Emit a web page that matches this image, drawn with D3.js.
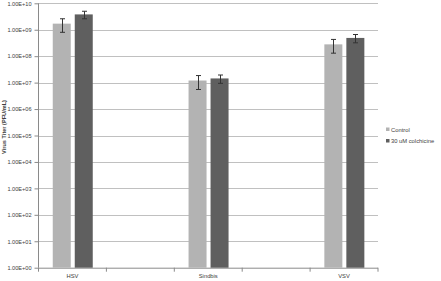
<!DOCTYPE html>
<html><head><meta charset="utf-8">
<script src="https://cdn.jsdelivr.net/npm/d3@7"></script>
<style>body{margin:0;background:#fff}svg{display:block}text{font-family:"Liberation Sans",Arial,sans-serif}</style>
</head><body>
<svg id="c" width="441" height="281"></svg>
<script>
const categories = ["HSV", "gap1", "Sindbis", "gap2", "VSV"];
const categoryLabels = ["HSV", "", "Sindbis", "", "VSV"];
const seriesNames = ["Control", "30 uM colchicine"];
const controlValues = [1.7e9, null, 1.2e7, null, 2.8e8];
const colchicineValues = [3.8e9, null, 1.44e7, null, 4.9e8];
const controlErrors = [0.9e9, null, 0.65e7, null, 1.5e8];
const colchicineErrors = [1.2e9, null, 0.5e7, null, 1.7e8];
const yTickValues = [1, 10, 100, 1e3, 1e4, 1e5, 1e6, 1e7, 1e8, 1e9, 1e10];
const yTickLabels = ["1.00E+00","1.00E+01","1.00E+02","1.00E+03","1.00E+04","1.00E+05","1.00E+06","1.00E+07","1.00E+08","1.00E+09","1.00E+10"];
const yTitle = "Virus Titer (PFU/mL)";
const colors = ["#b3b3b3", "#5f5f5f"];

const svg = d3.select("#c");
const pL = 38.5, pR = 378, pT = 3.3, pB = 267.7;
const y = d3.scaleLog().domain([1, 1e10]).range([pB, pT]);
const x = d3.scaleBand().domain(categories).range([pL, pR]).paddingInner(0).paddingOuter(0);
const xs = d3.scaleBand().domain(seriesNames).range([-19.7, 20.3]).paddingInner(4/22);

// gridlines
svg.append("g").selectAll("line").data(yTickValues.slice(1)).join("line")
  .attr("x1", pL).attr("x2", pR)
  .attr("y1", d => Math.round(y(d)) + 0.5).attr("y2", d => Math.round(y(d)) + 0.5)
  .attr("stroke", "#c0c0c0").attr("stroke-width", 1);

// y axis
const yAxis = d3.axisLeft(y).tickValues(yTickValues)
  .tickFormat((d, i) => yTickLabels[i]).tickSize(4).tickPadding(3);
const gy = svg.append("g").attr("transform", `translate(${pL},0)`).call(yAxis);
gy.select(".domain").attr("stroke", "#8a8a8a").attr("d", `M0,${pT}V${pB}`);
gy.selectAll(".tick line").attr("stroke", "#8a8a8a");
gy.selectAll(".tick text").attr("fill", "#404040").attr("font-size", 5.6).attr("font-family", "Liberation Sans, Arial, sans-serif");

// x axis
const xAxis = d3.axisBottom(x).tickFormat((d, i) => categoryLabels[i]).tickSize(0).tickPadding(6);
const gx = svg.append("g").attr("transform", `translate(0,${pB})`).call(xAxis);
gx.select(".domain").attr("stroke", "#8a8a8a").attr("d", `M${pL},0.5H${pR}`);
gx.selectAll(".tick text").attr("fill", "#404040").attr("font-size", 5.8).attr("font-family", "Liberation Sans, Arial, sans-serif");
// category boundary ticks
const bounds = categories.map(c => x(c)).concat([x(categories[categories.length-1]) + x.bandwidth()]);
svg.append("g").selectAll("line").data(bounds).join("line")
  .attr("x1", d => d).attr("x2", d => d).attr("y1", pB).attr("y2", pB + 4)
  .attr("stroke", "#8a8a8a");

// bars
const seriesData = [controlValues, colchicineValues];
const seriesErr = [controlErrors, colchicineErrors];
seriesNames.forEach((s, si) => {
  const rows = categories.map((c, i) => ({c, v: seriesData[si][i], e: seriesErr[si][i]})).filter(r => r.v != null);
  const g = svg.append("g");
  g.selectAll("rect").data(rows).join("rect")
    .attr("x", r => x(r.c) + x.bandwidth()/2 + xs(s))
    .attr("y", r => y(r.v))
    .attr("width", xs.bandwidth())
    .attr("height", r => pB - y(r.v))
    .attr("fill", colors[si]);
  const eb = g.selectAll("g.err").data(rows).join("g").attr("class", "err");
  const cx = r => Math.round(x(r.c) + x.bandwidth()/2 + xs(s) + xs.bandwidth()/2) + 0.5;
  eb.append("line").attr("x1", cx).attr("x2", cx)
    .attr("y1", r => y(r.v + r.e)).attr("y2", r => y(r.v - r.e));
  eb.append("line").attr("x1", r => cx(r) - 2.5).attr("x2", r => cx(r) + 2.5)
    .attr("y1", r => y(r.v + r.e)).attr("y2", r => y(r.v + r.e));
  eb.append("line").attr("x1", r => cx(r) - 2.5).attr("x2", r => cx(r) + 2.5)
    .attr("y1", r => y(r.v - r.e)).attr("y2", r => y(r.v - r.e));
  eb.selectAll("line").attr("stroke", "#333").attr("stroke-width", 1);
});

// y title
svg.append("text").attr("transform", "translate(5.5,127) rotate(-90)")
  .attr("text-anchor", "middle").attr("font-size", 5.6).attr("font-weight", "bold")
  .attr("fill", "#404040").text(yTitle);

// legend
const lg = svg.append("g").attr("transform", "translate(386,129.5)");
seriesNames.forEach((s, i) => {
  lg.append("rect").attr("x", 0).attr("y", i * 11.5 - 2).attr("width", 3.5).attr("height", 3.5).attr("fill", colors[i]);
  lg.append("text").attr("x", 5).attr("y", i * 11.5 + 2).attr("font-size", 5.8).attr("fill", "#404040").text(s);
});
</script>
</body></html>
